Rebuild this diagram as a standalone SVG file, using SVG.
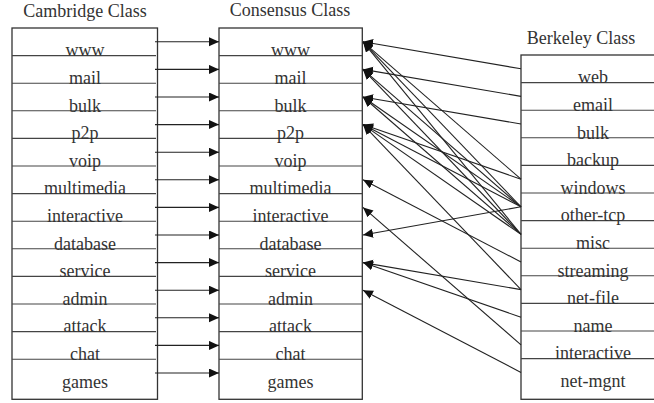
<svg xmlns="http://www.w3.org/2000/svg" width="654" height="403" viewBox="0 0 654 403">
<defs>
<marker id="ah" markerUnits="userSpaceOnUse" markerWidth="11" markerHeight="10" refX="10" refY="4.5" orient="auto">
<path d="M0,0 L10,4.5 L0,9 z" fill="#111"/>
</marker>
<style>
text{font-family:"Liberation Serif","Times New Roman",serif;font-size:18px;fill:#333;text-anchor:middle}
.box{fill:#fff;stroke:#333;stroke-width:1.3}
.row{stroke:#444;stroke-width:1.1}
.c{stroke:#222;stroke-width:1.1;fill:none;marker-end:url(#ah)}
</style>
</defs>
<rect width="654" height="403" fill="#fff"/>
<g id="cambridge">
<text x="85" y="17">Cambridge Class</text>
<rect class="box" x="12" y="28" width="145.5" height="371.3"/>
<g class="row">
<line x1="12" y1="55.6" x2="156" y2="55.6"/><line x1="12" y1="83.2" x2="156" y2="83.2"/><line x1="12" y1="110.8" x2="156" y2="110.8"/><line x1="12" y1="138.4" x2="156" y2="138.4"/><line x1="12" y1="166" x2="156" y2="166"/><line x1="12" y1="193.6" x2="156" y2="193.6"/><line x1="12" y1="221.2" x2="156" y2="221.2"/><line x1="12" y1="248.8" x2="156" y2="248.8"/><line x1="12" y1="276.4" x2="156" y2="276.4"/><line x1="12" y1="304" x2="156" y2="304"/><line x1="12" y1="331.6" x2="156" y2="331.6"/><line x1="12" y1="359.2" x2="156" y2="359.2"/>
</g>
<text x="85" y="56.3">www</text><text x="85" y="83.9">mail</text><text x="85" y="111.5">bulk</text><text x="85" y="139.1">p2p</text><text x="85" y="166.7">voip</text><text x="85" y="194.3">multimedia</text><text x="85" y="221.9">interactive</text><text x="85" y="249.5">database</text><text x="85" y="277.1">service</text><text x="85" y="304.7">admin</text><text x="85" y="332.3">attack</text><text x="85" y="359.9">chat</text><text x="85" y="387.5">games</text>
</g>
<g id="consensus">
<text x="290" y="16.3">Consensus Class</text>
<rect class="box" x="219" y="28" width="143.3" height="371.3"/>
<g class="row">
<line x1="219" y1="55.6" x2="362" y2="55.6"/><line x1="219" y1="83.2" x2="362" y2="83.2"/><line x1="219" y1="110.8" x2="362" y2="110.8"/><line x1="219" y1="138.4" x2="362" y2="138.4"/><line x1="219" y1="166" x2="362" y2="166"/><line x1="219" y1="193.6" x2="362" y2="193.6"/><line x1="219" y1="221.2" x2="362" y2="221.2"/><line x1="219" y1="248.8" x2="362" y2="248.8"/><line x1="219" y1="276.4" x2="362" y2="276.4"/><line x1="219" y1="304" x2="362" y2="304"/><line x1="219" y1="331.6" x2="362" y2="331.6"/><line x1="219" y1="359.2" x2="362" y2="359.2"/>
</g>
<text x="290.5" y="56.3">www</text><text x="290.5" y="83.9">mail</text><text x="290.5" y="111.5">bulk</text><text x="290.5" y="139.1">p2p</text><text x="290.5" y="166.7">voip</text><text x="290.5" y="194.3">multimedia</text><text x="290.5" y="221.9">interactive</text><text x="290.5" y="249.5">database</text><text x="290.5" y="277.1">service</text><text x="290.5" y="304.7">admin</text><text x="290.5" y="332.3">attack</text><text x="290.5" y="359.9">chat</text><text x="290.5" y="387.5">games</text>
</g>
<g id="berkeley">
<text x="581" y="43.8">Berkeley Class</text>
<rect class="box" x="521" y="55" width="145" height="344.3"/>
<g class="row">
<line x1="521" y1="82.6" x2="654" y2="82.6"/><line x1="521" y1="110.2" x2="654" y2="110.2"/><line x1="521" y1="137.8" x2="654" y2="137.8"/><line x1="521" y1="165.4" x2="654" y2="165.4"/><line x1="521" y1="193" x2="654" y2="193"/><line x1="521" y1="220.6" x2="654" y2="220.6"/><line x1="521" y1="248.2" x2="654" y2="248.2"/><line x1="521" y1="275.8" x2="654" y2="275.8"/><line x1="521" y1="303.4" x2="654" y2="303.4"/><line x1="521" y1="331" x2="654" y2="331"/><line x1="521" y1="358.6" x2="654" y2="358.6"/>
</g>
<text x="593" y="83.3">web</text><text x="593" y="110.9">email</text><text x="593" y="138.5">bulk</text><text x="593" y="166.1">backup</text><text x="593" y="193.7">windows</text><text x="593" y="221.3">other-tcp</text><text x="593" y="248.9">misc</text><text x="593" y="276.5">streaming</text><text x="593" y="304.1">net-file</text><text x="593" y="331.7">name</text><text x="593" y="359.3">interactive</text><text x="593" y="386.9">net-mgnt</text>
</g>
<g id="connectors">
<line class="c" x1="155" y1="41.8" x2="219" y2="41.8"/>
<line class="c" x1="155" y1="69.4" x2="219" y2="69.4"/>
<line class="c" x1="155" y1="97" x2="219" y2="97"/>
<line class="c" x1="155" y1="124.6" x2="219" y2="124.6"/>
<line class="c" x1="155" y1="152.2" x2="219" y2="152.2"/>
<line class="c" x1="155" y1="179.8" x2="219" y2="179.8"/>
<line class="c" x1="155" y1="207.4" x2="219" y2="207.4"/>
<line class="c" x1="155" y1="235" x2="219" y2="235"/>
<line class="c" x1="155" y1="262.6" x2="219" y2="262.6"/>
<line class="c" x1="155" y1="290.2" x2="219" y2="290.2"/>
<line class="c" x1="155" y1="317.8" x2="219" y2="317.8"/>
<line class="c" x1="155" y1="345.4" x2="219" y2="345.4"/>
<line class="c" x1="155" y1="373" x2="219" y2="373"/>
<line class="c" x1="521" y1="68.8" x2="363" y2="41.8"/>
<line class="c" x1="521" y1="96.4" x2="363" y2="69.4"/>
<line class="c" x1="521" y1="124" x2="363" y2="97"/>
<line class="c" x1="521" y1="179.2" x2="363" y2="41.8"/>
<line class="c" x1="521" y1="179.2" x2="363" y2="124.6"/>
<line class="c" x1="521" y1="206.8" x2="363" y2="41.8"/>
<line class="c" x1="521" y1="206.8" x2="363" y2="69.4"/>
<line class="c" x1="521" y1="206.8" x2="363" y2="97"/>
<line class="c" x1="521" y1="206.8" x2="363" y2="124.6"/>
<line class="c" x1="521" y1="206.8" x2="363" y2="235"/>
<line class="c" x1="521" y1="234.4" x2="363" y2="41.8"/>
<line class="c" x1="521" y1="234.4" x2="363" y2="69.4"/>
<line class="c" x1="521" y1="234.4" x2="363" y2="97"/>
<line class="c" x1="521" y1="234.4" x2="363" y2="124.6"/>
<line class="c" x1="521" y1="262" x2="363" y2="179.8"/>
<line class="c" x1="521" y1="289.6" x2="363" y2="124.6"/>
<line class="c" x1="521" y1="289.6" x2="363" y2="262.6"/>
<line class="c" x1="521" y1="317.2" x2="363" y2="262.6"/>
<line class="c" x1="521" y1="344.8" x2="363" y2="207.4"/>
<line class="c" x1="521" y1="372.4" x2="363" y2="290.2"/>
</g>
</svg>
